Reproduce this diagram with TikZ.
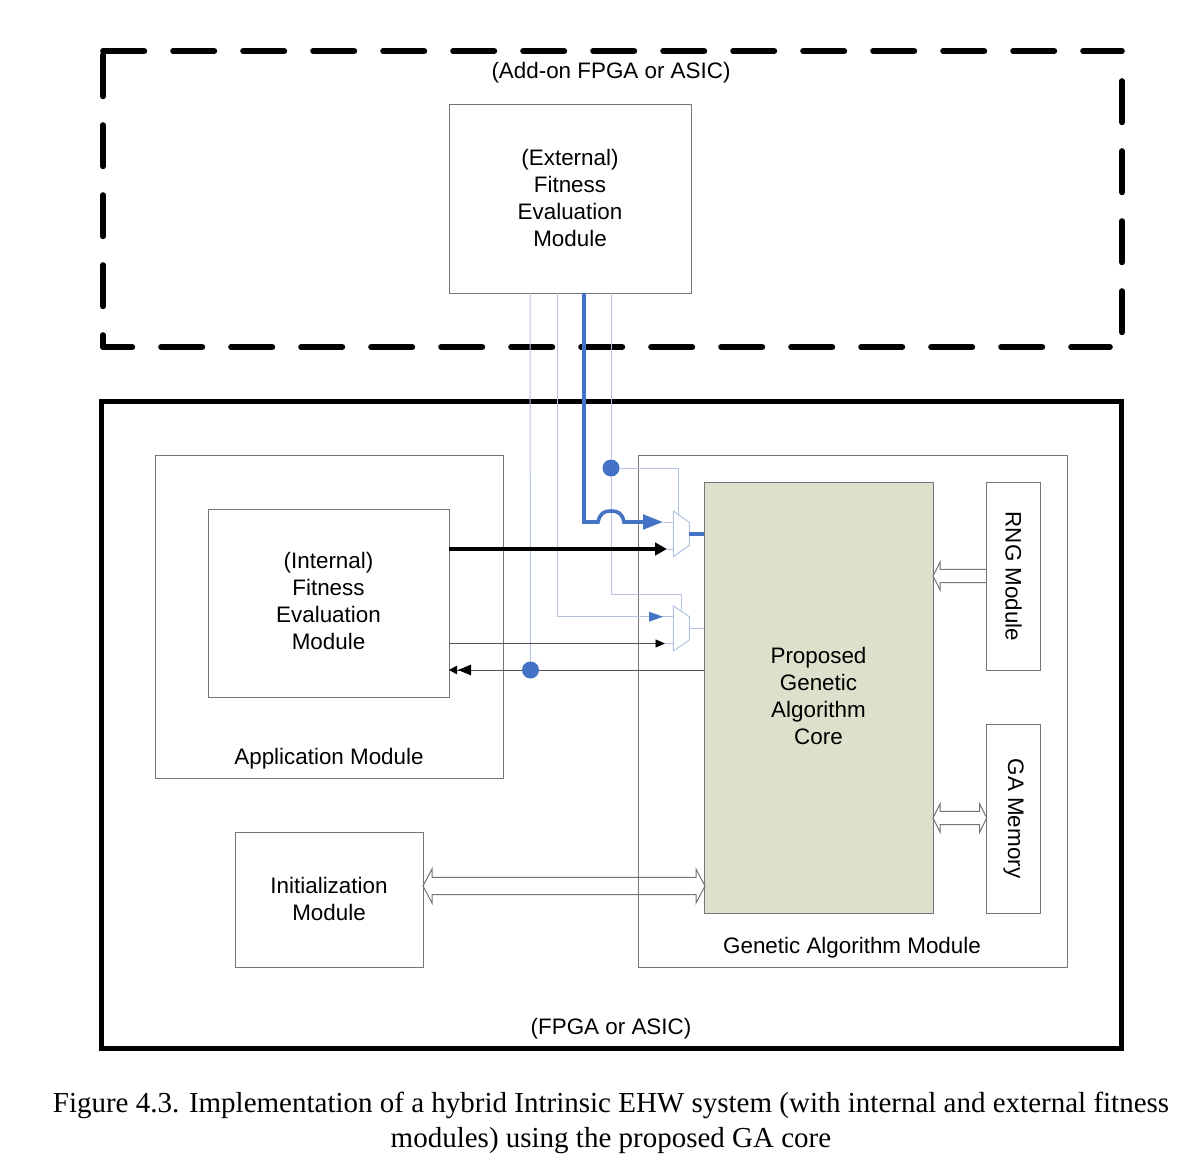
\documentclass[tikz,border=0pt]{standalone}
\usepackage{fontspec}
\setmainfont{Liberation Sans}
\newfontfamily\capfont{Liberation Serif}
\usetikzlibrary{arrows.meta,calc}
\definecolor{boxline}{HTML}{757575}
\definecolor{linkblue}{HTML}{4472C4}
\definecolor{paleblue}{HTML}{B3C3E1}
\definecolor{coregreen}{HTML}{DDE0CB}
\tikzset{
  x=1pt,y=-1pt,
  block/.style={draw=boxline,line width=0.9pt,fill=none,anchor=north west,inner sep=0pt,outer sep=0pt,align=center,
    font=\fontsize{22.4}{27}\selectfont},
  label text/.style={inner sep=0pt,align=center,font=\fontsize{22.4}{27}\selectfont},
  vertical label/.style={label text,rotate=-90},
  caption text/.style={inner sep=0pt,align=center,font=\capfont\fontsize{29}{35}\selectfont},
  dashedge/.style={line width=5.6pt,line cap=round,dash pattern=on 41.4pt off 28.6pt,black},
  paleline/.style={draw=paleblue,line width=1pt},
  busline/.style={draw=linkblue,line width=3.6pt},
  signal/.style={draw=boxline!70!black,line width=0.9pt},
  hollow/.style={draw=boxline,line width=1pt,line join=miter},
  dot/.style={circle,fill=linkblue,minimum size=17pt,inner sep=0pt,outer sep=0pt},
  muxshape/.style={draw=paleblue,line width=1pt,fill=white},
}
% Open block arrow with one head: tip at #1, tail at #2
\newcommand{\hollowone}[2]{%
  \draw[hollow] (#2)++(0,-6.7) -- ($(#1)+(7,-6.7)$) -- ($(#1)+(7,-13.7)$) -- (#1)
    -- ($(#1)+(7,13.7)$) -- ($(#1)+(7,6.7)$) -- ($(#2)+(0,6.7)$);}
% Open block arrow with two heads: tips at #1 (left) and #2 (right), half shaft #3, half head #4, head length #5
\newcommand{\hollowtwo}[5]{%
  \draw[hollow] (#1) -- ($(#1)+(#5,-#4)$) -- ($(#1)+(#5,-#3)$) -- ($(#2)+(-#5,-#3)$) -- ($(#2)+(-#5,-#4)$)
    -- (#2) -- ($(#2)+(-#5,#4)$) -- ($(#2)+(-#5,#3)$) -- ($(#1)+(#5,#3)$) -- ($(#1)+(#5,#4)$) -- cycle;}
\begin{document}
\begin{tikzpicture}
\useasboundingbox[fill=white] (0,0) rectangle (1200,1170);

% Dashed add-on device outline, one stroke per side
\coordinate (dTL) at (103,51);
\coordinate (dTR) at (1122,51);
\coordinate (dRT) at (1122,81);
\coordinate (dRB) at (1122,333);
\coordinate (dBR) at (1110,347);
\coordinate (dBL) at (103,347);
\coordinate (dLT) at (103,55);
\draw[dashedge] (dTL) -- (dTR);
\draw[dashedge] (dRT) -- (dRB);
\draw[dashedge,dash pattern=on 41.4pt off 28.6pt,dash phase=12pt] (dBL) -- (dBR);
\draw[dashedge] (dLT) -- (dBL);

% Device outline
\node[draw=black,line width=5pt,anchor=north west,minimum width=1020pt,minimum height=647pt,inner sep=0pt,outer sep=0pt] (fpga) at (101,401) {};

% Blocks; the empty last row in some of them nudges the text block upward
\node[block,minimum width=242pt,minimum height=189pt] (ext) at (449,104) {(External)\\Fitness\\Evaluation\\Module\\[-25pt]\mbox{}};
\node[block,minimum width=348pt,minimum height=323pt] (app) at (155,455) {};
\node[block,minimum width=241pt,minimum height=188pt] (int) at (208,509) {(Internal)\\Fitness\\Evaluation\\Module\\[-23pt]\mbox{}};
\node[block,minimum width=429pt,minimum height=512pt] (gam) at (638,455) {};
\node[block,fill=coregreen,minimum width=229pt,minimum height=431pt] (core) at (704,482) {Proposed\\Genetic\\Algorithm\\Core\\[-23pt]\mbox{}};
\node[block,minimum width=54pt,minimum height=188pt] (rng) at (986,482) {};
\node[block,minimum width=54pt,minimum height=189pt] (mem) at (986,724) {};
\node[block,minimum width=188pt,minimum height=135pt] (init) at (235,832) {Initialization\\Module\\[-25pt]\mbox{}};

% Labels
\node[label text] (addon) at (611,72.5) {(Add-on FPGA or ASIC)};
\node[label text] (applabel) at (329,758.5) {Application Module};
\node[label text] (galabel) at (852,947.5) {Genetic Algorithm Module};
\node[label text] (fpgalabel) at (611,1028.5) {(FPGA or ASIC)};
\node[vertical label] (rnglabel) at (1013.5,576.5) {RNG Module};
\node[vertical label] (memlabel) at (1013.5,818.5) {GA Memory};
\node[caption text] (caption) at (611,1123) {Figure 4.3. Implementation of a hybrid Intrinsic EHW system (with internal and external fitness\\modules) using the proposed GA core};

% Multiplexers
\node[inner sep=0pt,minimum size=0pt] (muxa) at (681,534) {};
\node[inner sep=0pt,minimum size=0pt] (muxb) at (681,628) {};
\draw[muxshape] (673.3,511) -- (689.3,522.3) -- (689.3,545.5) -- (673.3,556.7) -- cycle;
\draw[muxshape] (673.3,605.7) -- (689.3,616.7) -- (689.3,640) -- (673.3,651) -- cycle;

% Anchor points on block edges and at the multiplexer inputs
\coordinate (extA) at (530,293);
\coordinate (extB) at (557,293);
\coordinate (extC) at (584,293);
\coordinate (extD) at (611,293);
\coordinate (muxaTop) at (678,514);
\coordinate (muxbTop) at (681.7,610);
\coordinate (muxaIn) at (673.3,522);
\coordinate (muxaInB) at (673.3,549);
\coordinate (muxbIn) at (673.3,616.7);
\coordinate (muxbInB) at (673.3,643.5);
\coordinate (tipA) at (663,522);
\coordinate (tipB) at (667,549);
\coordinate (tipC) at (663,616.7);
\coordinate (tipD) at (665,643.5);

% Junction dots
\node[dot] (dotC) at (611,468) {};
\node[dot] (dotR) at (530.5,670) {};

% Pale control and data lines
\draw[paleline] (extA) -- (dotR);
\draw[paleline] (extB) |- (muxbIn);
\draw[paleline] (extD) -- (dotC);
\draw[paleline] (dotC) -- (611,594) -| (muxbTop);
\draw[paleline] (dotC) -| (muxaTop);
\draw[paleline] (tipA) -- (muxaIn);
\draw[paleline] (tipB) -- (muxaInB);
\draw[paleline] (tipD) -- (muxbInB);
\draw[paleline] (689.3,628) -- (core.west |- muxb);

% Heavy fitness bus with a hop over the crossing line
\draw[busline,-{Triangle[length=20pt,width=14.5pt]}] (extC) -- (584,522) -- (598,522)
  .. controls (600,513) and (604,511) .. (611,511)
  .. controls (618,511) and (622,513) .. (624,522) -- (tipA);
\draw[busline] (689.3,534) -- (core.west |- muxa);

% Arrows from the internal fitness module
\draw[draw=black,line width=3.7pt,-{Triangle[length=12pt,width=12.5pt]}] (int.east |- tipB) -- (tipB);
\draw[signal,-{Triangle[black,length=9.5pt,width=8pt]}] (int.east |- tipD) -- (tipD);
\fill[linkblue] (tipC) -- ++(-14,-5) -- ++(0,10) -- cycle;

% Return path into the internal module, broken by the junction dot
\draw[signal] (core.west |- dotR) -- (dotR);
\draw[signal,-{Triangle[black,length=13pt,width=10.5pt,sep=1pt] Triangle[black,length=8pt,width=8.5pt]}] (dotR) -- (int.east |- dotR);

% Open block arrows
\coordinate (initTip) at (423,886);
\coordinate (coreTipI) at (705,886);
\hollowtwo{initTip}{coreTipI}{8.7}{17}{9}
\coordinate (rngTip) at (933,576);
\coordinate (rngTail) at (986,576);
\hollowone{rngTip}{rngTail}
\coordinate (memTipL) at (933,818);
\coordinate (memTipR) at (986.7,818);
\hollowtwo{memTipL}{memTipR}{6.7}{14}{7}
\end{tikzpicture}
\end{document}
